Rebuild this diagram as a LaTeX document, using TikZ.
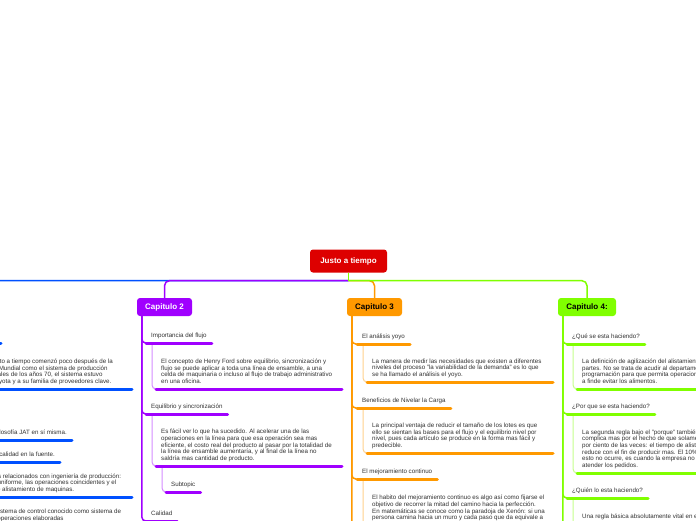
\documentclass[tikz,border=0pt]{standalone}
\usepackage{fontspec}
\setmainfont{Liberation Sans}
\definecolor{rootred}{RGB}{221,0,0}
\definecolor{capblue}{RGB}{0,80,255}
\definecolor{cappurple}{RGB}{160,0,255}
\definecolor{caporange}{RGB}{255,153,0}
\definecolor{capgreen}{RGB}{128,255,0}
\definecolor{inkgray}{RGB}{50,50,50}
\tikzset{
  trunk/.style={draw=#1, line width=1.5pt, rounded corners=5pt},
  branch/.style={draw=#1, line width=1.5pt, rounded corners=4pt},
  twig/.style={draw=#1!45, line width=1pt, rounded corners=4pt},
  ul/.style={draw=#1, line width=3pt, line cap=round},
  rootbox/.style={fill=rootred, rounded corners=3pt, text=white, minimum width=77pt, minimum height=23pt, inner sep=0pt, font=\fontsize{8}{9}\selectfont\bfseries},
  capbox/.style={fill=#1, rounded corners=3pt, minimum width=55pt, minimum height=18pt, inner sep=0pt, font=\fontsize{8}{9}\selectfont\bfseries},
  topic/.style={anchor=south west, inner xsep=5pt, inner ysep=3.5pt, align=left, text=inkgray, font=\fontsize{6.2}{6.65}\selectfont, execute at begin node=\strut, execute at end node=\strut}
}
\begin{document}
\begin{tikzpicture}[x=1pt, y=-1pt]
  \useasboundingbox (0,0) rectangle (696,520);
  \fill[white] (0,0) rectangle (696,520);
  \clip (0,0) rectangle (696,520);

  % centro y capitulos
  \node[rootbox] (root) at (348.5,261) {Justo a tiempo};
  \node[capbox=cappurple, text=white] (cap2) at (164.5,307) {Capitulo 2};
  \node[capbox=caporange, text=black] (cap3) at (374.5,307) {Capitulo 3};
  \node[capbox=capgreen, text=black, minimum width=58pt] (cap4) at (587,307) {Capitulo 4:};
  \coordinate (cap1) at (-45,298);
  \coordinate (fork) at ([yshift=-8pt]root.south);

  \draw[trunk=capblue] (fork) -| (cap1);
  \draw[trunk=cappurple] (fork) -| (cap2.north);
  \draw[trunk=caporange] (fork) -| (cap3.north);
  \draw[trunk=capgreen] (fork) -| (cap4.north);
  \draw[trunk=capgreen] (root.south) -- (fork);

  % capitulo 1 (cortado a la izquierda)
  \coordinate (hist1) at (-64,343);
  \coordinate (hist2) at (1,343);
  \node[topic] (jat) at (-54,389) {La producción justo a tiempo comenzó poco después de la\\Segunda Guerra Mundial como el sistema de producción\\Pero ya hasta finales de los años 70, el sistema estuvo\\limitado solo a Toyota y a su familia de proveedores clave.};
  \node[topic, anchor=south east] (filo) at (72,440) {La filosofía JAT en sí misma.};
  \node[topic, anchor=south east] (fuente) at (60,462) {Control de calidad en la fuente.};
  \node[topic] (tecn) at (-54,497) {Aspectos técnicos relacionados con ingeniería de producción:\\así como el flujo uniforme, las operaciones coincidentes y el\\mínimo tiempo de alistamiento de maquinas.};
  \node[topic, anchor=north west] (ctrl) at (-54,505.5) {Es el uso de un sistema de control conocido como sistema de\\arrastre, con las operaciones elaboradas};
  \draw[ul=capblue] (hist1) -- (hist2);
  \draw[ul=capblue] (jat.south west) -- ++(186,0);
  \draw[ul=capblue] (filo.south west) -- (filo.south east);
  \draw[ul=capblue] (fuente.south west) -- (fuente.south east);
  \draw[ul=capblue] (tecn.south west) -- ++(186,0);

  % capitulo 2
  \node[topic] (flujo) at (146,343) {Importancia del flujo};
  \node[topic] (flujot) at (156,389) {El concepto de Henry Ford sobre equilibrio, sincronización y\\flujo se puede aplicar a toda una línea de ensamble, a una\\celda de maquinaria o incluso al flujo de trabajo administrativo\\en una oficina.};
  \node[topic] (sinc) at (146,414) {Equilibrio y sincronización};
  \node[topic] (sinct) at (156,466) {Es fácil ver lo que ha sucedido. Al acelerar una de las\\operaciones en la línea para que esa operación sea mas\\eficiente, el costo real del producto al pasar por la totalidad de\\la línea de ensamble aumentaría, y al final de la línea no\\saldría mas cantidad de producto.};
  \node[topic] (subt) at (166,492) {Subtopic};
  \node[topic] (cal) at (146,521) {Calidad};
  \foreach \t in {flujo,sinc,cal}
    \draw[branch=cappurple] ([xshift=5pt]cap2.south west) |- (\t.south west);
  \draw[twig=cappurple] ([xshift=6pt]flujo.south west) |- (flujot.south west);
  \draw[twig=cappurple] ([xshift=6pt]sinc.south west) |- (sinct.south west);
  \draw[twig=cappurple] ([xshift=6pt]sinct.south west) |- (subt.south west);
  \foreach \t in {flujo,sinc,subt,cal}
    \draw[ul=cappurple] (\t.south west) -- (\t.south east);
  \foreach \t in {flujot,sinct}
    \draw[ul=cappurple] (\t.south west) -- ++(186,0);

  % capitulo 3
  \node[topic] (yoyo) at (357,344) {El análisis yoyo};
  \node[topic] (yoyot) at (367,382) {La manera de medir las necesidades que existen a diferentes\\niveles del proceso "la variabilidad de la demanda" es lo que\\se ha llamado el análisis el yoyo.};
  \node[topic] (carga) at (357,408) {Beneficios de Nivelar la Carga};
  \node[topic] (cargat) at (367,453) {La principal ventaja de reducir el tamaño de los lotes es que\\ello se sientan las bases para el flujo y el equilibrio nivel por\\nivel, pues cada artículo se produce en la forma mas fácil y\\predecible.};
  \node[topic] (mejora) at (357,479) {El mejoramiento continuo};
  \node[topic, anchor=north west] (mejorat) at (367,491.5) {El habito del mejoramiento continuo es algo así como fijarse el\\objetivo de recorrer la mitad del camino hacia la perfección.\\En matemáticas se conoce como la paradoja de Xenón: si una\\persona camina hacia un muro y cada paso que da equivale a};
  \coordinate (cap3more) at (357,560);
  \foreach \t in {yoyo.south west,carga.south west,mejora.south west,cap3more}
    \draw[branch=caporange] ([xshift=5pt]cap3.south west) |- (\t);
  \draw[twig=caporange] ([xshift=6pt]yoyo.south west) |- (yoyot.south west);
  \draw[twig=caporange] ([xshift=6pt]carga.south west) |- (cargat.south west);
  \draw[twig=caporange] ([xshift=6pt]mejora.south west) |- (mejorat.south west);
  \foreach \t in {yoyo,carga,mejora}
    \draw[ul=caporange] (\t.south west) -- (\t.south east);
  \foreach \t in {yoyot,cargat}
    \draw[ul=caporange] (\t.south west) -- ++(186,0);

  % capitulo 4 (cortado a la derecha)
  \node[topic] (que) at (567,344) {¿Qué se esta haciendo?};
  \node[topic] (quet) at (577,389) {La definición de agilización del alistamiento de las\\partes. No se trata de acudir al departamento de\\programación para que permita operaciones\\a finde evitar los alimentos.};
  \node[topic] (por) at (567,414) {¿Por que se esta haciendo?};
  \node[topic] (port) at (577,473) {La segunda regla bajo el "porque" también\\complica mas por el hecho de que solamente\\por ciento de las veces: el tiempo de alistamiento\\reduce con el fin de producir mas. El 10\%\\esto no ocurre, es cuando la empresa no\\atender los pedidos.};
  \node[topic] (quien) at (567,498) {¿Quién lo esta haciendo?};
  \node[topic, anchor=north west] (quient) at (577,510.5) {Una regla básica absolutamente vital en el};
  \coordinate (cap4more) at (567,560);
  \foreach \t in {que.south west,por.south west,quien.south west,cap4more}
    \draw[branch=capgreen] ([xshift=5pt]cap4.south west) |- (\t);
  \draw[twig=capgreen] ([xshift=6pt]que.south west) |- (quet.south west);
  \draw[twig=capgreen] ([xshift=6pt]por.south west) |- (port.south west);
  \draw[twig=capgreen] ([xshift=6pt]quien.south west) |- (quient.south west);
  \foreach \t in {que,por,quien}
    \draw[ul=capgreen] (\t.south west) -- (\t.south east);
  \foreach \t in {quet,port}
    \draw[ul=capgreen] (\t.south west) -- ++(186,0);
\end{tikzpicture}
\end{document}
